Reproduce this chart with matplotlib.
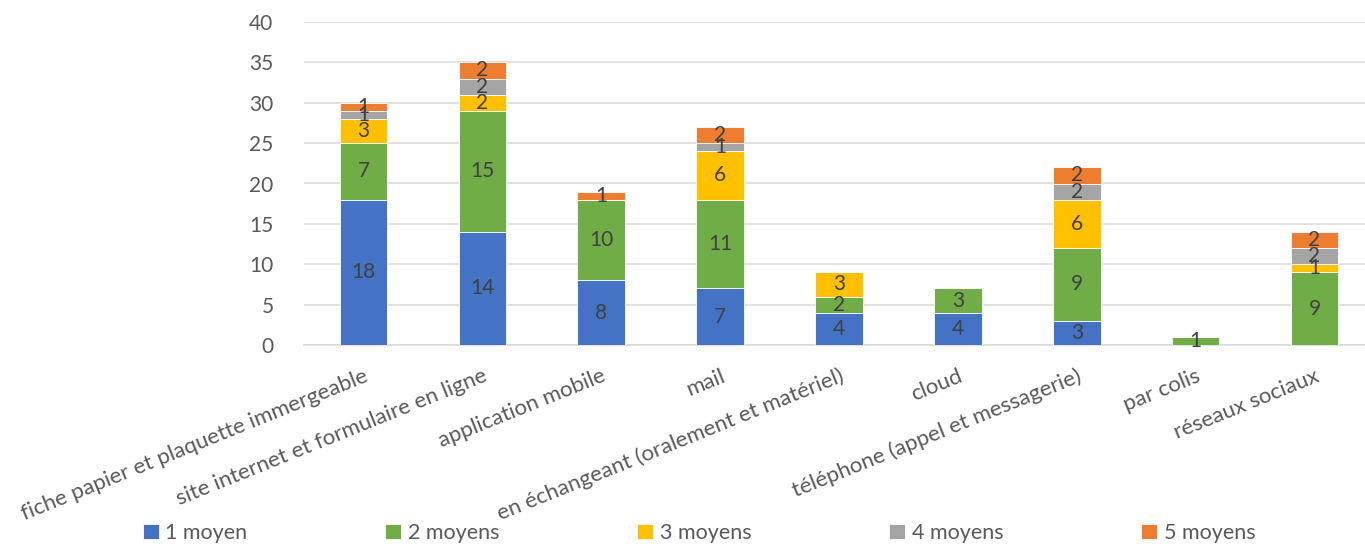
import matplotlib
matplotlib.use("Agg")
import matplotlib.pyplot as plt
import numpy as np

categories = [
    "fiche papier et plaquette immergeable",
    "site internet et formulaire en ligne",
    "application mobile",
    "mail",
    "en échangeant (oralement et matériel)",
    "cloud",
    "téléphone (appel et messagerie)",
    "par colis",
    "réseaux sociaux",
]
series_names = ["1 moyen", "2 moyens", "3 moyens", "4 moyens", "5 moyens"]
moyen1 = [18, 14, 8, 7, 4, 4, 3, 0, 0]
moyen2 = [7, 15, 10, 11, 2, 3, 9, 1, 9]
moyen3 = [3, 2, 0, 6, 3, 0, 6, 0, 1]
moyen4 = [1, 2, 0, 1, 0, 0, 2, 0, 2]
moyen5 = [1, 2, 1, 2, 0, 0, 2, 0, 2]
series = [moyen1, moyen2, moyen3, moyen4, moyen5]
colors = ["#4472C4", "#70AD47", "#FFC000", "#A5A5A5", "#ED7D31"]
yticks = [0, 5, 10, 15, 20, 25, 30, 35, 40]

plt.rcParams['font.family'] = ['Lato', 'DejaVu Sans']
txt = "#595959"
fs = 15

fig = plt.figure(figsize=(13.65, 5.47), dpi=100)
ax = fig.add_axes([304/1365, 1-345/547, 1070/1365, 323/547])

x = np.arange(len(categories))
bottom = np.zeros(len(categories))
for vals, name, c in zip(series, series_names, colors):
    v = np.array(vals, dtype=float)
    ax.bar(x, v, 0.4, bottom=bottom, color=c, label=name,
           edgecolor="white", linewidth=0.6, zorder=3)
    for xi, b, val in zip(x, bottom, v):
        if val > 0:
            ax.text(xi, b + val/2, f"{int(val)}", ha="center", va="center",
                    fontsize=fs, color="#404040", zorder=4)
    bottom += v

ax.set_xlim(-0.5, len(categories) - 0.5)
ax.set_ylim(0, 40)
ax.set_yticks(yticks)
ax.set_yticklabels([str(t) for t in yticks], fontsize=fs, color=txt)
ax.yaxis.grid(True, color="#D9D9D9", linewidth=1.1, zorder=0)
ax.set_axisbelow(True)
for s in ["top", "right", "left"]:
    ax.spines[s].set_visible(False)
ax.spines["bottom"].set_color("#D9D9D9")
ax.spines["bottom"].set_linewidth(1.1)
ax.tick_params(axis="y", length=0, pad=22)
ax.tick_params(axis="x", length=0, pad=15)
ax.set_xticks(x)
ax.set_xticklabels(categories, rotation=22, ha="right", rotation_mode="anchor",
                   fontsize=16, color=txt)
for lbl in ax.get_xticklabels():
    lbl.set_va("top")

fig.legend(loc="center", bbox_to_anchor=(0.512, 1-533/547), ncol=5, frameon=False,
           fontsize=15.5, labelcolor=txt, handlelength=0.75, handleheight=0.75,
           handletextpad=0.3, columnspacing=6.4)

fig.savefig("out.png", dpi=100)
